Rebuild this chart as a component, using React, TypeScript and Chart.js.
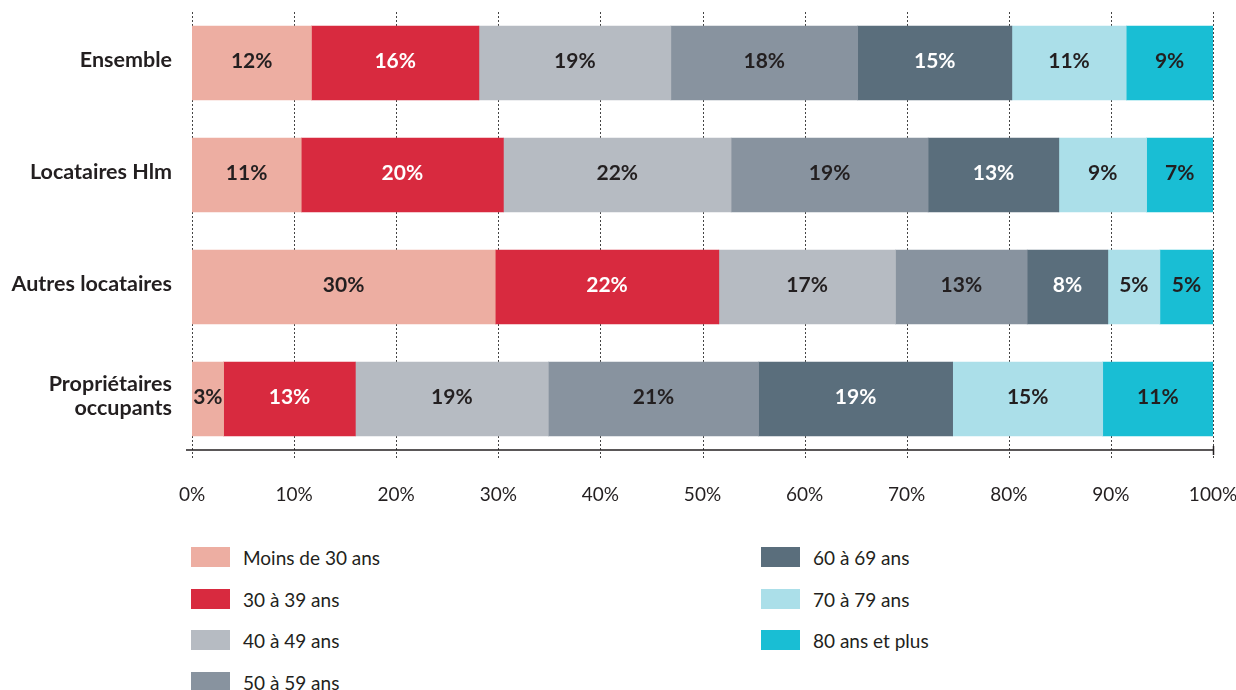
import React, { useEffect, useRef } from "react";
import { Chart, registerables } from "chart.js";

Chart.register(...registerables);

const categories: (string | string[])[] = [
  "Ensemble",
  "Locataires Hlm",
  "Autres locataires",
  ["Propriétaires", "occupants"],
];

const seriesLabels = [
  "Moins de 30 ans",
  "30 à 39 ans",
  "40 à 49 ans",
  "50 à 59 ans",
  "60 à 69 ans",
  "70 à 79 ans",
  "80 ans et plus",
];

const moins30 = [11.7, 10.7, 29.7, 3.1];
const ans30a39 = [16.4, 19.8, 21.9, 12.9];
const ans40a49 = [18.8, 22.3, 17.3, 18.9];
const ans50a59 = [18.3, 19.3, 12.9, 20.6];
const ans60a69 = [15.1, 12.8, 7.9, 19.0];
const ans70a79 = [11.2, 8.6, 5.1, 14.7];
const ans80plus = [8.5, 6.5, 5.2, 10.8];

const seriesValues = [moins30, ans30a39, ans40a49, ans50a59, ans60a69, ans70a79, ans80plus];

const seriesColors = ["#EDAEA2", "#D82A3F", "#B6BBC2", "#88939F", "#5A6E7C", "#ABDFE9", "#19BED4"];
const labelColors = ["#231f20", "#ffffff", "#231f20", "#231f20", "#ffffff", "#231f20", "#231f20"];

const xTicks = [0, 10, 20, 30, 40, 50, 60, 70, 80, 90, 100];

const FONT = "Lato, 'Open Sans', sans-serif";

const gridPlugin = {
  id: "customGrid",
  beforeDatasetsDraw(chart: any) {
    const { ctx, chartArea, scales } = chart;
    const xs = scales.x;
    ctx.save();
    ctx.strokeStyle = "#444";
    ctx.lineWidth = 1;
    ctx.setLineDash([2, 2]);
    xTicks.forEach((v) => {
      const x = Math.round(xs.getPixelForValue(v)) + 0.5;
      ctx.beginPath();
      ctx.moveTo(x, chartArea.top + 5);
      ctx.lineTo(x, chartArea.bottom + 3);
      ctx.stroke();
    });
    ctx.setLineDash([]);
    ctx.strokeStyle = "#231f20";
    ctx.lineWidth = 1.5;
    const yAxis = chartArea.bottom - 5;
    ctx.beginPath();
    ctx.moveTo(xs.getPixelForValue(0) - 6, yAxis);
    ctx.lineTo(xs.getPixelForValue(100) + 0.5, yAxis);
    ctx.stroke();
    const x100 = Math.round(xs.getPixelForValue(100)) + 0.5;
    ctx.beginPath();
    ctx.moveTo(x100, yAxis - 4);
    ctx.lineTo(x100, yAxis + 5);
    ctx.stroke();
    ctx.restore();
  },
};

const barLabelPlugin = {
  id: "barLabels",
  afterDatasetsDraw(chart: any) {
    const { ctx } = chart;
    ctx.save();
    ctx.font = `bold 21px ${FONT}`;
    ctx.textAlign = "center";
    ctx.textBaseline = "middle";
    chart.data.datasets.forEach((ds: any, i: number) => {
      const meta = chart.getDatasetMeta(i);
      meta.data.forEach((el: any, j: number) => {
        const v = ds.data[j];
        ctx.fillStyle = labelColors[i];
        ctx.fillText(`${Math.round(v)}%`, (el.x + el.base) / 2, el.y - 2);
      });
    });
    ctx.restore();
  },
};

export default function App() {
  const ref = useRef<HTMLCanvasElement | null>(null);

  useEffect(() => {
    if (!ref.current) return;
    const chart = new Chart(ref.current, {
      type: "bar",
      data: {
        labels: categories as any,
        datasets: seriesLabels.map((label, i) => ({
          label,
          data: seriesValues[i],
          backgroundColor: seriesColors[i],
          borderWidth: 0,
          barThickness: 74,
        })),
      },
      options: {
        indexAxis: "y",
        animation: false,
        responsive: false,
        maintainAspectRatio: false,
        layout: { padding: { top: 7, right: 23, left: 0, bottom: 0 } },
        plugins: {
          legend: { display: false },
          tooltip: { enabled: false },
        },
        scales: {
          x: {
            stacked: true,
            min: 0,
            max: 100,
            grid: { display: false, drawTicks: false },
            border: { display: false },
            ticks: {
              stepSize: 10,
              padding: 28,
              color: "#231f20",
              font: { family: FONT, size: 19 },
              callback: (v: any) => `${v}%`,
            },
            afterFit(scale: any) {
              scale.height = 65;
              scale.paddingLeft = 0;
              scale.paddingRight = 0;
            },
          },
          y: {
            stacked: true,
            grid: { display: false },
            border: { display: false },
            ticks: {
              padding: 12,
              labelOffset: -3,
              color: "#231f20",
              font: { family: FONT, size: 21.5, weight: "bold", lineHeight: 1.15 },
            },
            afterFit(scale: any) {
              scale.width = 192;
              scale.paddingTop = 0;
              scale.paddingBottom = 0;
            },
          },
        },
      },
      plugins: [gridPlugin, barLabelPlugin],
    });
    return () => chart.destroy();
  }, []);

  const leftItems = [0, 1, 2, 3];
  const rightItems = [4, 5, 6];
  const rowTop = [547, 589, 630, 672];

  const item = (idx: number, left: number, top: number) => (
    <div key={idx} style={{ position: "absolute", left, top, height: 20, display: "flex", alignItems: "center" }}>
      <div style={{ width: 39, height: 20, background: seriesColors[idx], flex: "none" }} />
      <span style={{ marginLeft: 13, fontFamily: FONT, fontSize: 19, color: "#231f20", whiteSpace: "nowrap" }}>
        {seriesLabels[idx]}
      </span>
    </div>
  );

  return (
    <div style={{ position: "absolute", left: 0, top: 0, width: 1236, height: 690, background: "#fff", overflow: "hidden" }}>
      <canvas ref={ref} width={1236} height={520} style={{ position: "absolute", left: 0, top: 0 }} />
      {leftItems.map((idx, r) => item(idx, 191, rowTop[r]))}
      {rightItems.map((idx, r) => item(idx, 761, rowTop[r]))}
    </div>
  );
}
